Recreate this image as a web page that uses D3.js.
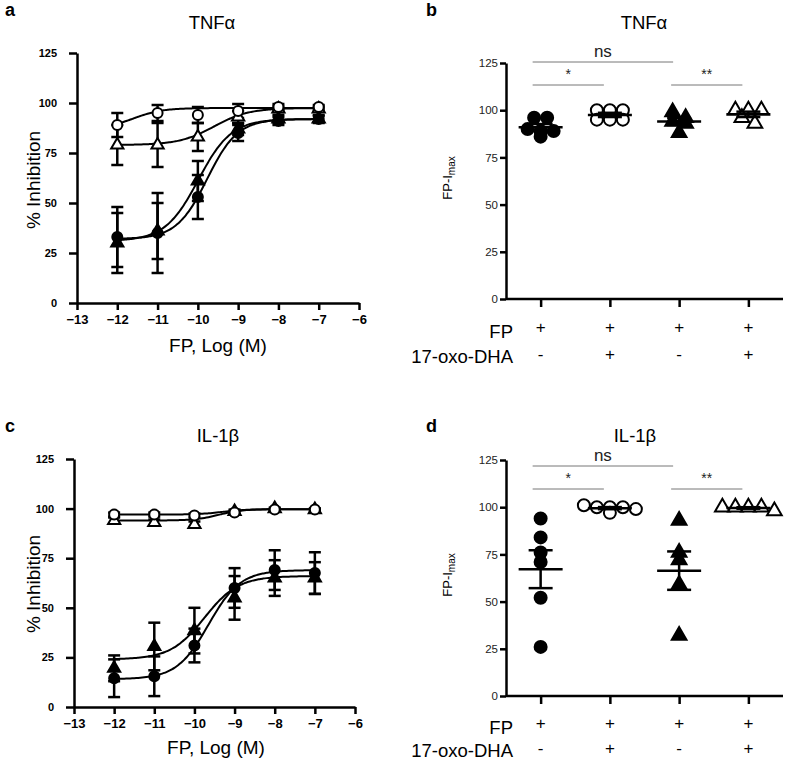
<!DOCTYPE html>
<html>
<head>
<meta charset="utf-8">
<script src="https://cdn.jsdelivr.net/npm/d3@7"></script>
<style>
  body { margin: 0; background: #fff; }
  text { font-family: "Liberation Sans", Arial, sans-serif; }
</style>
</head>
<body>
<script>
// dose axis (log M)
const doseLog = [-12, -11, -10, -9, -8, -7];
const doseTicks = [-13, -12, -11, -10, -9, -8, -7, -6];
const pctTicks = [0, 25, 50, 75, 100, 125];

// TNFa dose-response (mean, sem)
const tnfOpenCircle = [89, 95, 94, 96, 98, 98];
const tnfOpenCircleErr = [6, 4, 4, 3.5, 1.5, 1];
const tnfOpenTri = [79, 79, 83, 93, 97, 97];
const tnfOpenTriErr = [10, 11, 7, 3, 1.5, 1];
const tnfFilledCircle = [33, 35, 53, 85, 91, 92];
const tnfFilledCircleErr = [15, 20, 11, 4, 2, 2];
const tnfFilledTri = [30, 36, 61, 87, 92, 92];
const tnfFilledTriErr = [15, 14, 10, 3, 2, 1.5];
// fitted 4PL: bottom, top, logEC50, hill
const tnfOpenCircleFit = [87, 97.5, -11.6, 1.2];
const tnfOpenTriFit = [79, 97.5, -9.6, 1.0];
const tnfFilledCircleFit = [32, 92, -9.77, 1.15];
const tnfFilledTriFit = [31, 92, -9.99, 1.06];

// IL-1b dose-response
const il1OpenCircle = [97, 97, 96.5, 98, 99.5, 99.5];
const il1OpenCircleErr = [1, 1, 1, 1, 0.5, 0.5];
const il1OpenTri = [94, 93, 92, 98.5, 100, 99.5];
const il1OpenTriErr = [1.5, 1.5, 1.5, 1, 0.5, 0.5];
const il1FilledCircle = [14.5, 15.5, 31, 60, 69, 67.5];
const il1FilledCircleErr = [9.5, 10, 8.5, 10, 10, 10.5];
const il1FilledTri = [19.5, 30.5, 38.5, 55, 65, 65];
const il1FilledTriErr = [6.5, 12, 11.5, 11, 9, 8];
const il1OpenCircleFit = [97, 99.7, -9.3, 1.5];
const il1OpenTriFit = [94, 99.7, -9.4, 1.5];
const il1FilledCircleFit = [14, 69, -9.65, 1.1];
const il1FilledTriFit = [24, 66, -9.75, 1.03];

// FP-Imax individual values
const groups = ["g1", "g2", "g3", "g4"];
const fpRow = ["+", "+", "+", "+"];
const oxoRow = ["-", "+", "-", "+"];
const tnfImaxFP = [96, 96, 89, 86, 89, 90];
const tnfImaxFPOxo = [100, 100, 100, 95, 95, 95];
const tnfImaxFP2 = [99, 96, 88, 94, 93];
const tnfImaxFP2Oxo = [100, 100, 100, 93, 96];
const il1ImaxFP = [94, 84, 76, 71, 52, 26];
const il1ImaxFPOxo = [100, 100, 101, 100, 99, 97];
const il1ImaxFP2 = [93, 76, 72, 59, 32];
const il1ImaxFP2Oxo = [100, 100, 100, 100, 98];

const svg = d3.select("body").append("svg")
    .attr("width", 787).attr("height", 762);

function fourPL(p, x) {
    return p[0] + (p[1] - p[0]) / (1 + Math.pow(10, (p[2] - x) * p[3]));
}

function marker(g, shape, filled, x, y, size) {
    if (shape == "circle") {
        g.append("circle").attr("cx", x).attr("cy", y).attr("r", size)
            .attr("fill", filled ? "#000" : "#fff")
            .attr("stroke", "#000").attr("stroke-width", 2);
    } else {
        g.append("path")
            .attr("d", d3.symbol(d3.symbolTriangle, size * size * 2.6)())
            .attr("transform", `translate(${x},${y})`)
            .attr("fill", filled ? "#000" : "#fff")
            .attr("stroke", "#000").attr("stroke-width", 2);
    }
}

function styleAxis(g, fontSize, weight, color) {
    g.select(".domain").attr("stroke", "#000").attr("stroke-width", 2.5);
    g.selectAll(".tick line").attr("stroke", "#000").attr("stroke-width", 2.5);
    g.selectAll(".tick text").attr("font-size", fontSize)
        .attr("font-weight", weight).attr("fill", color)
        .style("font-family", '"Liberation Sans", Arial, sans-serif');
}

function dosePanel(opt) {
    const x = d3.scaleLinear().domain([-13, -6]).range(opt.xr);
    const y = d3.scaleLinear().domain([0, 125]).range(opt.yr);

    const yAx = svg.append("g").attr("transform", `translate(${opt.xr[0]},0)`)
        .call(d3.axisLeft(y).tickValues(pctTicks).tickSize(8).tickPadding(12).tickSizeOuter(0));
    styleAxis(yAx, 11, "bold", "#000");
    const xAx = svg.append("g").attr("transform", `translate(0,${opt.yr[0]})`)
        .call(d3.axisBottom(x).tickValues(doseTicks).tickFormat(d3.format("d"))
            .tickSize(7).tickPadding(5).tickSizeOuter(0));
    styleAxis(xAx, 13, "bold", "#000");

    const g = svg.append("g");
    const line = d3.line().x(d => x(d[0])).y(d => y(d[1])).curve(d3.curveBasis);
    opt.series.forEach(s => {
        const pts = d3.range(-12, -6.99, 0.05).map(v => [v, fourPL(s.fit, v)]);
        g.append("path").attr("d", line(pts)).attr("fill", "none")
            .attr("stroke", "#000").attr("stroke-width", 2);
    });
    opt.series.forEach(s => {
        s.vals.forEach((v, i) => {
            const cx = x(doseLog[i]);
            const e = s.err[i];
            g.append("line").attr("x1", cx).attr("x2", cx)
                .attr("y1", y(v - e)).attr("y2", y(v + e))
                .attr("stroke", "#000").attr("stroke-width", 2.5);
            [v - e, v + e].forEach(t => {
                g.append("line").attr("x1", cx - 6).attr("x2", cx + 6)
                    .attr("y1", y(t)).attr("y2", y(t))
                    .attr("stroke", "#000").attr("stroke-width", 2.5);
            });
        });
    });
    opt.series.forEach(s => {
        s.vals.forEach((v, i) => marker(g, s.shape, s.filled, x(doseLog[i]), y(v), 5));
    });

    svg.append("text").attr("x", opt.titleX).attr("y", opt.titleY)
        .attr("text-anchor", "middle").attr("font-size", 18.5).text(opt.title);
    svg.append("text").attr("x", opt.xLabX).attr("y", opt.xLabY)
        .attr("text-anchor", "middle").attr("font-size", 19).text("FP, Log (M)");
    svg.append("text")
        .attr("transform", `translate(40,${opt.yLabY}) rotate(-90)`)
        .attr("text-anchor", "middle").attr("font-size", 19).text("% Inhibition");
    svg.append("text").attr("x", 5).attr("y", opt.letterY)
        .attr("font-size", 18).attr("font-weight", "bold").text(opt.letter);
}

function swarm(vals, y, r) {
    const pts = vals.map(v => ({ v: v, py: y(v) })).sort((a, b) => b.v - a.v);
    const rows = [];
    pts.forEach(p => {
        const last = rows[rows.length - 1];
        if (last && p.py - last[0].py < r * 1.2) last.push(p);
        else rows.push([p]);
    });
    rows.forEach(row => {
        row.forEach((p, k) => { p.dx = (k - (row.length - 1) / 2) * (2 * r + 1); });
    });
    return pts;
}

function scatterPanel(opt) {
    const x = d3.scalePoint().domain(groups).range([506, 783]).padding(0.5);
    const y = d3.scaleLinear().domain([0, 125]).range(opt.yr);

    const yAx = svg.append("g").attr("transform", "translate(506,0)")
        .call(d3.axisLeft(y).tickValues(pctTicks).tickSize(6).tickPadding(2).tickSizeOuter(0));
    styleAxis(yAx, 11.5, "normal", "#222");
    const xAx = svg.append("g").attr("transform", `translate(0,${opt.yr[0]})`)
        .call(d3.axisBottom(x).tickSize(8).tickFormat("").tickSizeOuter(0));
    styleAxis(xAx, 11, "normal", "#222");
    xAx.select(".domain").attr("d", `M506,0H783`);

    const g = svg.append("g");
    const r = 6;
    opt.series.forEach((s, gi) => {
        const cx = x(groups[gi]);
        swarm(s.vals, y, r).forEach(p => marker(g, s.shape, s.filled, cx + p.dx, p.py, r));
    });
    opt.series.forEach((s, gi) => {
        const cx = x(groups[gi]);
        const m = d3.mean(s.vals);
        const sem = d3.deviation(s.vals) / Math.sqrt(s.vals.length);
        g.append("line").attr("x1", cx - 22).attr("x2", cx + 22)
            .attr("y1", y(m)).attr("y2", y(m))
            .attr("stroke", "#000").attr("stroke-width", 2.5);
        g.append("line").attr("x1", cx).attr("x2", cx)
            .attr("y1", y(m - sem)).attr("y2", y(m + sem))
            .attr("stroke", "#000").attr("stroke-width", 2.5);
        [m - sem, m + sem].forEach(t => {
            g.append("line").attr("x1", cx - 12).attr("x2", cx + 12)
                .attr("y1", y(t)).attr("y2", y(t))
                .attr("stroke", "#000").attr("stroke-width", 2.5);
        });
    });

    // significance bars
    const bars = [
        { a: 0, b: 2, y: opt.nsY, t: "ns", size: 17, ty: opt.nsY - 5 },
        { a: 0, b: 1, y: opt.starY, t: "*", size: 14, ty: opt.starY - 6 },
        { a: 2, b: 3, y: opt.starY, t: "**", size: 14, ty: opt.starY - 6 }
    ];
    bars.forEach(b => {
        const x1 = x(groups[b.a]) - 8, x2 = x(groups[b.b]) - 6;
        svg.append("line").attr("x1", x1).attr("x2", x2)
            .attr("y1", b.y).attr("y2", b.y)
            .attr("stroke", "#777").attr("stroke-width", 1);
        svg.append("text").attr("x", (x1 + x2) / 2).attr("y", b.ty)
            .attr("text-anchor", "middle").attr("font-size", b.size)
            .attr("fill", "#222").text(b.t);
    });

    // treatment rows
    svg.append("text").attr("x", 513).attr("y", opt.fpY).attr("text-anchor", "end")
        .attr("font-size", 18.5).text("FP");
    svg.append("text").attr("x", 513).attr("y", opt.oxoY).attr("text-anchor", "end")
        .attr("font-size", 18.5).text("17-oxo-DHA");
    groups.forEach((gname, i) => {
        svg.append("text").attr("x", x(gname)).attr("y", opt.fpY - 5)
            .attr("text-anchor", "middle").attr("font-size", 17).text(fpRow[i]);
        svg.append("text").attr("x", x(gname)).attr("y", opt.oxoY - 3)
            .attr("text-anchor", "middle").attr("font-size", 17).text(oxoRow[i]);
    });

    const lab = svg.append("text")
        .attr("transform", `translate(452,${opt.yLabY}) rotate(-90)`)
        .attr("text-anchor", "middle").attr("font-size", 13);
    lab.append("tspan").text("FP-I");
    lab.append("tspan").attr("font-size", 10).attr("dy", 3).text("max");

    svg.append("text").attr("x", opt.titleX).attr("y", opt.titleY)
        .attr("text-anchor", "middle").attr("font-size", 18.5).text(opt.title);
    svg.append("text").attr("x", 426).attr("y", opt.letterY)
        .attr("font-size", 18).attr("font-weight", "bold").text(opt.letter);
}

dosePanel({
    xr: [77, 359], yr: [303, 53], title: "TNFα", titleX: 212, titleY: 29,
    xLabX: 218, xLabY: 352, yLabY: 180, letter: "a", letterY: 16,
    series: [
        { vals: tnfFilledCircle, err: tnfFilledCircleErr, fit: tnfFilledCircleFit, shape: "circle", filled: true },
        { vals: tnfFilledTri, err: tnfFilledTriErr, fit: tnfFilledTriFit, shape: "triangle", filled: true },
        { vals: tnfOpenTri, err: tnfOpenTriErr, fit: tnfOpenTriFit, shape: "triangle", filled: false },
        { vals: tnfOpenCircle, err: tnfOpenCircleErr, fit: tnfOpenCircleFit, shape: "circle", filled: false }
    ]
});

dosePanel({
    xr: [74, 355], yr: [707, 459], title: "IL-1β", titleX: 218, titleY: 442,
    xLabX: 216, xLabY: 754, yLabY: 584, letter: "c", letterY: 432,
    series: [
        { vals: il1FilledCircle, err: il1FilledCircleErr, fit: il1FilledCircleFit, shape: "circle", filled: true },
        { vals: il1FilledTri, err: il1FilledTriErr, fit: il1FilledTriFit, shape: "triangle", filled: true },
        { vals: il1OpenTri, err: il1OpenTriErr, fit: il1OpenTriFit, shape: "triangle", filled: false },
        { vals: il1OpenCircle, err: il1OpenCircleErr, fit: il1OpenCircleFit, shape: "circle", filled: false }
    ]
});

scatterPanel({
    yr: [299, 63], title: "TNFα", titleX: 644, titleY: 29, letter: "b", letterY: 16,
    nsY: 62, starY: 85, fpY: 338, oxoY: 363, yLabY: 178,
    series: [
        { vals: tnfImaxFP, shape: "circle", filled: true },
        { vals: tnfImaxFPOxo, shape: "circle", filled: false },
        { vals: tnfImaxFP2, shape: "triangle", filled: true },
        { vals: tnfImaxFP2Oxo, shape: "triangle", filled: false }
    ]
});

scatterPanel({
    yr: [696, 460], title: "IL-1β", titleX: 635, titleY: 442, letter: "d", letterY: 432,
    nsY: 466, starY: 489, fpY: 734, oxoY: 757, yLabY: 575,
    series: [
        { vals: il1ImaxFP, shape: "circle", filled: true },
        { vals: il1ImaxFPOxo, shape: "circle", filled: false },
        { vals: il1ImaxFP2, shape: "triangle", filled: true },
        { vals: il1ImaxFP2Oxo, shape: "triangle", filled: false }
    ]
});
</script>
</body>
</html>
